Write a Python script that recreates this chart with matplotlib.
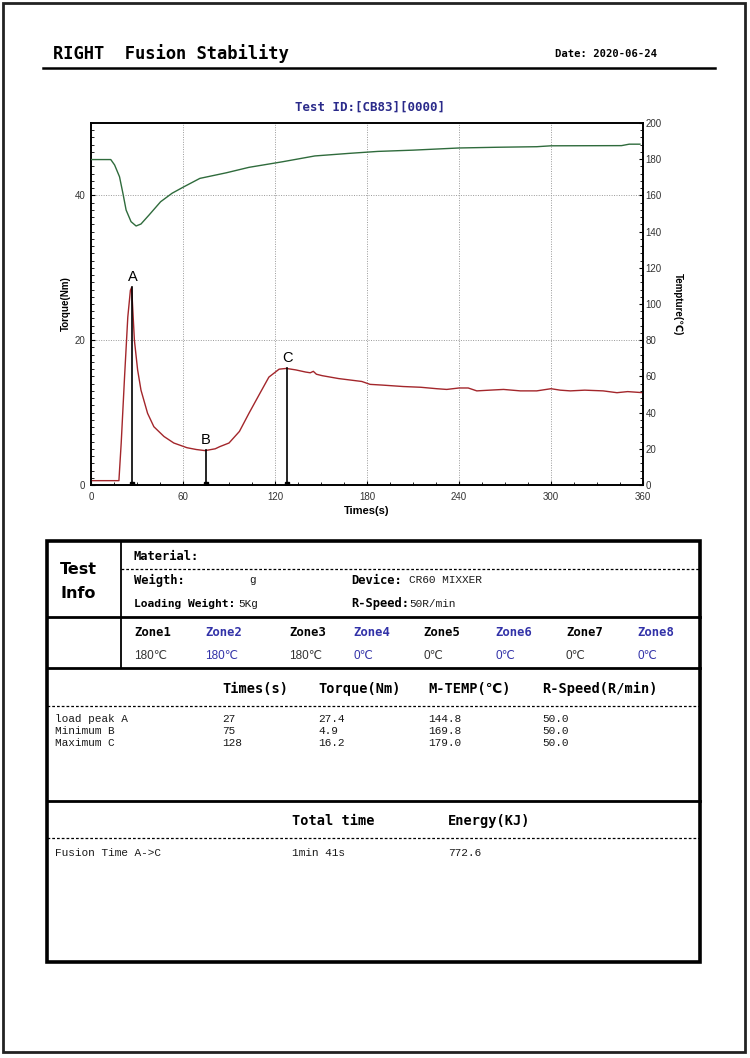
"""
plot.py
Fusion stability report: torque / temperature curves plus result tables.
"""

import matplotlib
matplotlib.use("Agg")
import matplotlib.pyplot as plt
from matplotlib.patches import Rectangle
from matplotlib.ticker import MultipleLocator

# --- DATA ---
# torque curve (Nm)
torque_t = [0, 18.2, 19.7, 21.9, 24, 25.7, 26.5, 28.3, 30.4, 32.6, 36.9, 41, 47.6, 54,
            62.6, 68.7, 74.4, 81, 84, 90, 96.8, 103, 110, 116, 122.7, 127.4, 133.5,
            140, 143, 145, 147, 150.8, 161.5, 176.6, 182, 190, 203.7, 215, 225.5, 232,
            240, 246, 251.6, 260, 269, 280, 290.7, 300, 306, 312.6, 322, 334, 343, 350, 360]
torque_v = [0.6, 0.6, 5.8, 15.0, 23.2, 26.9, 27.3, 20.0, 15.9, 13.1, 9.9, 8.05, 6.7, 5.8,
            5.15, 4.9, 4.75, 5.0, 5.3, 5.8, 7.4, 9.9, 12.6, 14.9, 16.0, 16.1, 15.9,
            15.6, 15.5, 15.7, 15.3, 15.1, 14.7, 14.3, 13.9, 13.8, 13.6, 13.5, 13.3, 13.2,
            13.4, 13.4, 13.0, 13.1, 13.2, 13.0, 13.0, 13.3, 13.1, 13.0, 13.1, 13.0,
            12.75, 12.9, 12.75]

# mixer temperature curve (degC)
temp_t = [0, 12.9, 15.4, 18.6, 20.8, 22.9, 26.1, 29.4, 32.6, 37.9, 45.4, 52.9, 60, 71,
          88.3, 103, 125, 146, 168, 187, 210, 240, 265, 290.7, 300, 346, 351, 358]
temp_v = [179.8, 179.8, 176.8, 170.3, 161.2, 151.9, 145.5, 143.1, 144.2, 149.2, 156.5,
          161.2, 164.5, 169.4, 172.5, 175.5, 178.6, 181.8, 183.2, 184.3, 185.0, 186.2,
          186.6, 186.9, 187.4, 187.5, 188.3, 188.3]

# key points A, B, C
point_names = ["A", "B", "C"]
point_time = [27, 75, 128]
point_torque = [27.4, 4.9, 16.2]
point_temp = [144.8, 169.8, 179.0]
point_speed = [50.0, 50.0, 50.0]
point_rows = ["load peak A", "Minimum B", "Maximum C"]

zone_names = ["Zone1", "Zone2", "Zone3", "Zone4", "Zone5", "Zone6", "Zone7", "Zone8"]
zone_temps = [180, 180, 180, 0, 0, 0, 0, 0]

x_ticks = [0, 60, 120, 180, 240, 300, 360]
torque_ticks = [0, 20, 40]
temp_ticks = list(range(0, 201, 20))

W, H = 750, 1058
MONO = ["DejaVu Sans Mono", "DejaVu Sans"]
SERIF_MONO = ["Liberation Mono", "DejaVu Sans Mono"]
SANS = ["Liberation Sans", "DejaVu Sans"]
NAVY = "#2a2a8a"
BLUE = "#3232a8"
INK = "#1a1a1a"

fig = plt.figure(figsize=(W / 100, H / 100), dpi=100)
fig.patch.set_facecolor("white")

# page overlay in pixel coords (y down)
pg = fig.add_axes([0, 0, 1, 1])
pg.set_xlim(0, W)
pg.set_ylim(H, 0)
pg.axis("off")

def txt(x, y, s, size=9, weight="normal", color="black", family=MONO, ha="left", **kw):
    pg.text(x, y, s, fontsize=size, fontweight=weight, color=color, family=family,
            ha=ha, va="center", **kw)

# page border
pg.add_patch(Rectangle((3, 3), 742, 1049, fill=False, lw=2.0, ec="#222222"))

# header
txt(53, 54, "RIGHT  Fusion Stability", size=12.3, weight="bold")
txt(555, 54, "Date: 2020-06-24", size=7.6, weight="bold")
pg.plot([43, 715], [68, 68], color="black", lw=1.8)
txt(370, 107, "Test ID:[CB83][0000]", size=9, weight="bold", color=NAVY, ha="center")

# --- chart ---
ax = fig.add_axes([91 / W, 1 - 485 / H, 552 / W, 362 / H])
ax2 = ax.twinx()

ax.plot(torque_t, torque_v, color="#a3262b", lw=1.0, zorder=3)
ax2.plot(temp_t, temp_v, color="#2f6b3c", lw=1.0, zorder=3)

for name, t, v in zip(point_names, point_time, point_torque):
    ax.plot([t, t], [0, v], color="black", lw=1.2, zorder=4)
    ax.plot(t, 0.15, "s", color="black", ms=2.5, zorder=5)
    ax.text(t, v + 0.4, name, ha="center", va="bottom", fontsize=10.5,
            family="Liberation Sans", color="black")

ax.set_xlim(0, 360)
ax.set_ylim(0, 50)
ax2.set_ylim(0, 200)
ax.set_xticks(x_ticks)
ax.set_yticks(torque_ticks)
ax2.set_yticks(temp_ticks)
ax.xaxis.set_minor_locator(MultipleLocator(15))
ax.yaxis.set_minor_locator(MultipleLocator(1))
ax2.yaxis.set_minor_locator(MultipleLocator(4))

ax.grid(True, which="major", color="#999999", ls=(0, (1, 1.5)), lw=0.7)
ax.tick_params(axis="x", which="major", pad=5)
ax.tick_params(which="major", direction="in", length=3, width=0.8, labelsize=7,
               labelcolor="#333333")
ax.tick_params(axis="y", which="major", pad=4)
ax.tick_params(which="minor", direction="in", length=2, width=0.6)
ax2.tick_params(which="major", direction="in", length=3, width=0.8, labelsize=7,
                labelcolor="#333333", pad=2)
ax2.tick_params(which="minor", direction="in", length=2, width=0.6)
for a in (ax, ax2):
    for sp in a.spines.values():
        sp.set_linewidth(1.2)
    for lab in a.get_xticklabels() + a.get_yticklabels():
        lab.set_family("Liberation Sans")

ax.set_xlabel("Times(s)", fontsize=8, fontweight="bold", family="Liberation Sans", labelpad=3)
ax.set_ylabel("Torque(Nm)", fontsize=7, fontweight="bold", family="Liberation Sans", labelpad=3)
ax2.set_ylabel("Tempture(℃)", fontsize=7, fontweight="bold", family=SANS,
               rotation=270, labelpad=15)

# --- table ---
L, R, T, B = 47, 700, 541, 962
VX = 121
pg.add_patch(Rectangle((L, T), R - L, B - T, fill=False, lw=2.6, ec="black", zorder=3))
for y in (617, 668, 801):
    pg.plot([L, R], [y, y], color="black", lw=2.0)
pg.plot([VX, VX], [T, 668], color="black", lw=1.3)
dash = (0, (2.2, 1.6))
pg.plot([VX, R], [569, 569], color="black", lw=0.9, ls=dash)
pg.plot([L, R], [706, 706], color="black", lw=0.9, ls=dash)
pg.plot([L, R], [838, 838], color="black", lw=0.9, ls=dash)

# test info
txt(78, 569, "Test", size=11.5, weight="bold", family="DejaVu Sans", ha="center")
txt(78, 593, "Info", size=11.5, weight="bold", family="DejaVu Sans", ha="center")
txt(134, 556, "Material:", size=8.7, weight="bold")
txt(134, 580, "Weigth:", size=8.7, weight="bold")
txt(249, 580, "g", size=8, family=SERIF_MONO, color=INK)
txt(351, 580, "Device:", size=8.7, weight="bold")
txt(409, 580, "CR60 MIXXER", size=8, family=SERIF_MONO, color=INK)
txt(134, 604, "Loading Weight:", size=8.1, weight="bold")
txt(238, 604, "5Kg", size=8, family=SERIF_MONO, color=INK)
txt(351, 604, "R-Speed:", size=8.7, weight="bold")
txt(409, 604, "50R/min", size=8, family=SERIF_MONO, color=INK)

# zones
zone_x = [134, 205, 289, 353, 423, 495, 566, 637]
for i, (zn, zt) in enumerate(zip(zone_names, zone_temps)):
    col = BLUE if i % 2 else "black"
    txt(zone_x[i], 632, zn, size=8.8, weight="bold", color=col)
    txt(zone_x[i], 656, f"{zt}℃", size=8.5, color=col if i % 2 else "#333333", family=SANS)

# key point results
col_x = [222, 318, 428, 542]
heads = ["Times(s)", "Torque(Nm)", "M-TEMP(℃)", "R-Speed(R/min)"]
for x, h in zip(col_x, heads):
    txt(x, 689, h, size=9.8, weight="bold")
for j, row in enumerate(point_rows):
    y = 719 + j * 12
    txt(55, y, row, size=8, family=SERIF_MONO, color=INK)
    txt(col_x[0], y, f"{point_time[j]}", size=8, family=SERIF_MONO, color=INK)
    txt(col_x[1], y, f"{point_torque[j]:.1f}", size=8, family=SERIF_MONO, color=INK)
    txt(col_x[2], y, f"{point_temp[j]:.1f}", size=8, family=SERIF_MONO, color=INK)
    txt(col_x[3], y, f"{point_speed[j]:.1f}", size=8, family=SERIF_MONO, color=INK)

# fusion time
fusion_s = point_time[2] - point_time[0]
txt(292, 821, "Total time", size=9.8, weight="bold")
txt(448, 821, "Energy(KJ)", size=9.8, weight="bold")
txt(55, 853, "Fusion Time A->C", size=8, family=SERIF_MONO, color=INK)
txt(292, 853, f"{fusion_s // 60}min {fusion_s % 60}s", size=8, family=SERIF_MONO, color=INK)
txt(448, 853, "772.6", size=8, family=SERIF_MONO, color=INK)

fig.savefig("out.png", dpi=100, facecolor="white")
